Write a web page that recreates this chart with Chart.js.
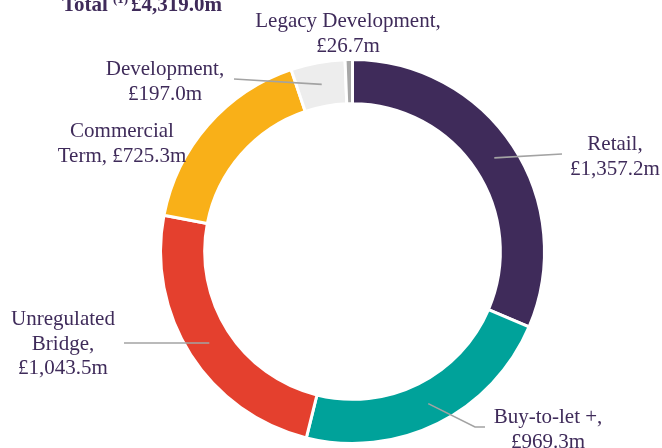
<!DOCTYPE html>
<html>
<head>
<meta charset="utf-8">
<script src="https://cdn.jsdelivr.net/npm/chart.js@4.4.1/dist/chart.umd.min.js"></script>
<style>
  html, body { margin: 0; padding: 0; background: #ffffff; }
  #wrap { width: 662px; height: 448px; position: relative; }
</style>
</head>
<body>
<div id="wrap"><canvas id="c" width="662" height="448"></canvas></div>
<script>
// ---- data ----
const categories = ["Retail", "Buy-to-let +", "Unregulated Bridge", "Commercial Term", "Development", "Legacy Development"];
const values = [1357.2, 969.3, 1043.5, 725.3, 197.0, 26.7];
const valueLabels = ["£1,357.2m", "£969.3m", "£1,043.5m", "£725.3m", "£197.0m", "£26.7m"];
const colors = ["#3f2b5a", "#00a29a", "#e4402e", "#f9b018", "#ededed", "#a8a8a8"];
const totalLabel = "£4,319.0m";

// label text layout (lines, centre x, first baseline) and whether a leader is drawn
const labelLines = [
  ["Retail,", "£1,357.2m"],
  ["Buy-to-let +,", "£969.3m"],
  ["Unregulated", "Bridge,", "£1,043.5m"],
  ["Commercial", "Term, £725.3m"],
  ["Development,", "£197.0m"],
  ["Legacy Development,", "£26.7m"]
];
const labelPos = [
  {x: 615, y: 150, lead: [[562, 154]]},
  {x: 548, y: 423, lead: [[485, 427], [475, 427]]},
  {x: 63,  y: 325, lead: [[124, 343]]},
  {x: 122, y: 137, lead: null},
  {x: 165, y: 75,  lead: [[234, 79]]},
  {x: 348, y: 27,  lead: null}
];
const TEXT = "#3f2b5a";
const FONT = "'Liberation Serif', 'Times New Roman', serif";

const labelPlugin = {
  id: 'labels',
  afterDraw(chart) {
    const ctx = chart.ctx;
    const meta = chart.getDatasetMeta(0);
    ctx.save();
    // leaders
    ctx.strokeStyle = "#a3a3a3";
    ctx.lineWidth = 1.6;
    meta.data.forEach((arc, i) => {
      const p = labelPos[i];
      if (!p.lead) return;
      const props = arc.getProps(['x','y','startAngle','endAngle','innerRadius','outerRadius'], true);
      const mid = (props.startAngle + props.endAngle) / 2;
      const r = (props.innerRadius + props.outerRadius) / 2;
      const sx = props.x + Math.cos(mid) * r;
      const sy = props.y + Math.sin(mid) * r;
      ctx.beginPath();
      ctx.moveTo(sx, sy);
      const pts = p.lead.slice().reverse();
      pts.forEach(pt => ctx.lineTo(pt[0], pt[1]));
      ctx.stroke();
    });
    // texts
    ctx.fillStyle = TEXT;
    ctx.font = "21px " + FONT;
    ctx.textAlign = "center";
    ctx.textBaseline = "alphabetic";
    labelLines.forEach((lines, i) => {
      const p = labelPos[i];
      lines.forEach((t, j) => ctx.fillText(t, p.x, p.y + j * 24.5));
    });
    // title
    ctx.textAlign = "left";
    ctx.font = "bold 21px " + FONT;
    let x = 62;
    ctx.fillText("Total", x, 11);
    x += ctx.measureText("Total").width + 5;
    ctx.font = "bold 13px " + FONT;
    ctx.fillText("(1)", x, 3);
    x += ctx.measureText("(1)").width + 3;
    ctx.font = "bold 21px " + FONT;
    ctx.fillText(totalLabel, x, 11);
    ctx.restore();
  }
};

new Chart(document.getElementById('c'), {
  type: 'doughnut',
  data: {
    labels: categories,
    datasets: [{
      data: values,
      backgroundColor: colors,
      borderColor: "#ffffff",
      borderWidth: 3,
      hoverOffset: 0
    }]
  },
  options: {
    responsive: false,
    maintainAspectRatio: false,
    animation: false,
    cutout: '77%',
    rotation: 0,
    layout: { padding: { left: 159, top: 58, right: 116, bottom: 3 } },
    plugins: { legend: { display: false }, tooltip: { enabled: false }, title: { display: false } }
  },
  plugins: [labelPlugin]
});
</script>
</body>
</html>
